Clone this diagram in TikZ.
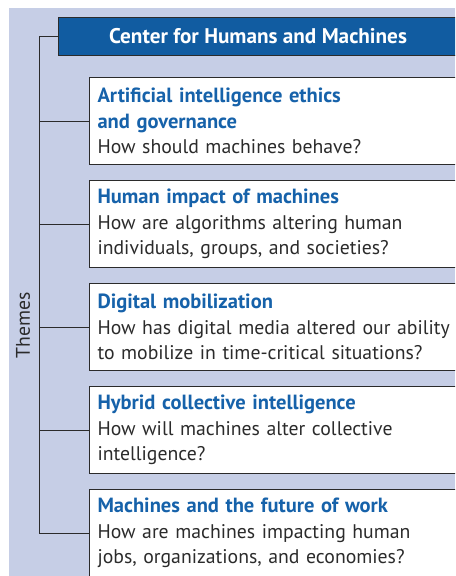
\documentclass[tikz,border=0pt]{standalone}
\usepackage{fontspec}
\setmainfont{PT Sans}
\usetikzlibrary{positioning}
\definecolor{bgblue}{RGB}{198,206,230}
\definecolor{hdblue}{RGB}{17,92,161}
\definecolor{ttlblue}{RGB}{22,98,170}
\definecolor{txtgray}{RGB}{43,43,43}
\newcommand{\ttl}[1]{{\fontsize{15.4}{19}\selectfont\bfseries\color{ttlblue}#1}}
\tikzset{
  themebox/.style={draw=txtgray,fill=white,line width=0.8pt,anchor=north west,
    minimum height=65.25pt,text width=290pt,inner xsep=6pt,align=left,
    text=txtgray,font=\fontsize{14.8}{19}\selectfont},
  headbox/.style={draw=txtgray,fill=hdblue,line width=0.8pt,anchor=north west,
    minimum height=28.5pt,minimum width=299.25pt,text=white,
    font=\fontsize{15.9}{19}\selectfont\bfseries},
  tree/.style={draw=txtgray,line width=0.8pt}
}
\begin{document}
\begin{tikzpicture}[x=0.75pt,y=-0.75pt]
\clip (0,0) rectangle (455,576);
\fill[bgblue] (9,8) rectangle (455,576);

\node[headbox] (hd) at (58,17) {Center for Humans and Machines};

\node[themebox] (t1) at (89,77) {\ttl{Artificial intelligence ethics}\\\ttl{and governance}\\How should machines behave?};
\node[themebox] (t2) at (89,180) {\ttl{Human impact of machines}\\How are algorithms altering human\\individuals, groups, and societies?};
\node[themebox] (t3) at (89,283) {\ttl{Digital mobilization}\\How has digital media altered our ability\\to mobilize in time-critical situations?};
\node[themebox] (t4) at (89,386) {\ttl{Hybrid collective intelligence}\\How will machines alter collective\\intelligence?};
\node[themebox] (t5) at (89,489) {\ttl{Machines and the future of work}\\How are machines impacting human\\jobs, organizations, and economies?};

\node[rotate=90,text=txtgray,font=\fontsize{14.8}{19}\selectfont] (themes) at (23,325) {Themes};

\coordinate (trunk) at (39.5,0);
\draw[tree] (hd.west) -- (hd.west -| trunk) -- (trunk |- t5.west) -- (t5.west);
\foreach \t in {t1,t2,t3,t4}
  \draw[tree] (trunk |- \t.west) -- (\t.west);
\end{tikzpicture}
\end{document}
